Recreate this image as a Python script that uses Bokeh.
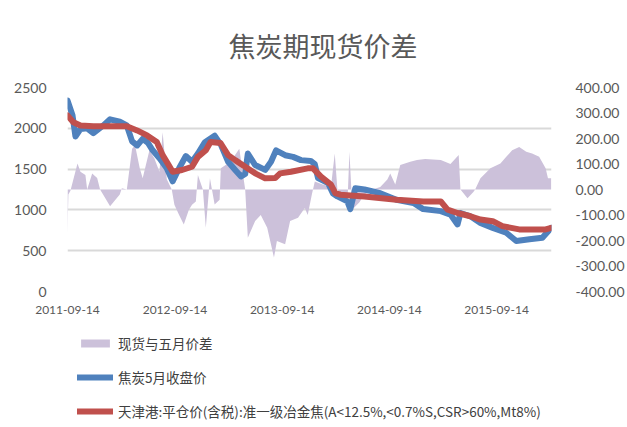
import pandas as pd
from bokeh.plotting import figure
from bokeh.layouts import column
from bokeh.models import (Range1d, LinearAxis, FixedTicker, NumeralTickFormatter,
                          DatetimeTickFormatter, Legend, LegendItem)
from bokeh.embed import file_html
from bokeh.resources import INLINE

# ---------------- data ----------------
tick_labels = ["2011-09-14", "2012-09-14", "2013-09-14", "2014-09-14", "2015-09-14"]
left_ticks = [0, 500, 1000, 1500, 2000, 2500]
right_ticks = [-400, -300, -200, -100, 0, 100, 200, 300, 400]
series_names = ["现货与五月价差", "焦炭5月收盘价",
                "天津港:平仓价(含税):准一级冶金焦(A<12.5%,<0.7%S,CSR>60%,Mt8%)"]

coke_dates = [
    "2011-09-14", "2011-10-01", "2011-10-11", "2011-10-28", "2011-11-20", "2011-12-11",
    "2012-01-14", "2012-02-06", "2012-03-10", "2012-04-03", "2012-04-21", "2012-05-08",
    "2012-05-27", "2012-06-14", "2012-06-30", "2012-07-24", "2012-08-17", "2012-09-06",
    "2012-09-28", "2012-10-21", "2012-11-11", "2012-12-01", "2012-12-25", "2013-01-27",
    "2013-02-17", "2013-03-14", "2013-04-07", "2013-04-27", "2013-05-11", "2013-05-20",
    "2013-06-14", "2013-07-18", "2013-08-07", "2013-08-24", "2013-09-24", "2013-10-21",
    "2013-11-17", "2013-12-20", "2014-01-03", "2014-01-14", "2014-02-17", "2014-03-06",
    "2014-03-21", "2014-04-24", "2014-05-04", "2014-05-21", "2014-06-21", "2014-08-14",
    "2014-10-08", "2014-12-05", "2015-01-07", "2015-03-08", "2015-04-10", "2015-05-04",
    "2015-05-14", "2015-06-17", "2015-07-21", "2015-09-01", "2015-10-17", "2015-11-20",
    "2016-01-04", "2016-02-17", "2016-03-18",
]
coke_close = [
    2340, 2160, 1900, 1990, 2000, 1940,
    2035, 2110, 2080, 2035, 1840, 1790,
    1870, 1820, 1730, 1630, 1510, 1350,
    1510, 1660, 1590, 1690, 1830, 1910,
    1800, 1590, 1490, 1410, 1440, 1690,
    1550, 1490, 1590, 1730, 1670, 1650,
    1610, 1600, 1560, 1390, 1330, 1200,
    1165, 1104, 1010, 1266, 1250, 1205,
    1125, 1084, 1010, 985, 943, 822,
    962, 922, 841, 780, 720, 619,
    640, 659, 780,
]

port_dates = [
    "2011-09-14", "2011-10-04", "2011-10-28", "2011-12-11", "2012-04-03", "2012-05-08",
    "2012-06-11", "2012-07-14", "2012-08-03", "2012-08-20", "2012-09-06", "2012-10-08",
    "2012-11-11", "2012-12-01", "2012-12-28", "2013-01-13", "2013-02-16", "2013-03-14",
    "2013-04-07", "2013-05-11", "2013-06-14", "2013-07-18", "2013-08-21", "2013-09-07",
    "2013-10-14", "2013-12-10", "2013-12-28", "2014-01-24", "2014-02-27", "2014-03-14",
    "2014-03-31", "2014-06-21", "2014-10-08", "2015-01-07", "2015-03-08", "2015-03-31",
    "2015-05-04", "2015-06-17", "2015-07-21", "2015-09-01", "2015-10-04", "2015-11-30",
    "2016-02-28", "2016-03-18",
]
port_price = [
    2157, 2075, 2035, 2025, 2025, 1974,
    1913, 1833, 1671, 1570, 1468, 1489,
    1529, 1650, 1732, 1833, 1820, 1671,
    1610, 1529, 1448, 1387, 1390, 1448,
    1468, 1509, 1509, 1408, 1310, 1205,
    1186, 1165, 1125, 1104, 1104, 1003,
    962, 922, 882, 862, 801, 761,
    761, 780,
]

spread_dates = [
    "2011-09-14", "2011-09-17", "2011-09-24", "2011-10-18", "2011-10-28", "2011-11-14",
    "2011-11-20", "2011-12-07", "2011-12-24", "2012-01-03", "2012-02-06", "2012-03-10",
    "2012-03-17", "2012-04-03", "2012-04-21", "2012-05-01", "2012-05-17", "2012-05-27",
    "2012-06-19", "2012-07-06", "2012-07-23", "2012-08-03", "2012-08-17", "2012-09-03",
    "2012-09-12", "2012-09-28", "2012-10-14", "2012-10-31", "2012-11-11", "2012-11-24",
    "2012-12-01", "2012-12-18", "2012-12-28", "2013-01-11", "2013-01-27", "2013-02-13",
    "2013-02-17", "2013-03-22", "2013-04-21", "2013-05-11", "2013-05-20", "2013-06-14",
    "2013-07-03", "2013-07-25", "2013-08-17", "2013-08-27", "2013-09-24", "2013-10-11",
    "2013-11-07", "2013-11-30", "2013-12-10", "2013-12-24", "2014-01-03", "2014-01-30",
    "2014-02-27", "2014-03-12", "2014-03-21", "2014-04-07", "2014-04-24", "2014-05-01",
    "2014-05-11", "2014-06-04", "2014-06-21", "2014-07-18", "2014-08-14", "2014-09-07",
    "2014-09-17", "2014-10-04", "2014-10-21", "2014-11-24", "2014-12-17", "2015-01-14",
    "2015-03-08", "2015-04-10", "2015-05-08", "2015-05-14", "2015-06-07", "2015-06-27",
    "2015-07-03", "2015-07-21", "2015-08-24", "2015-09-27", "2015-10-17", "2015-11-06",
    "2015-11-30", "2015-12-24", "2016-01-13", "2016-02-06", "2016-02-28", "2016-03-07",
    "2016-03-18",
]
spread_vals = [
    -176, -20, -5, 102, 70, 57,
    0, 63, 45, 0, -66, -20,
    5, 0, 160, 174, 83, 44,
    154, 122, 70, 225, 40, 0,
    -60, -100, -137, -80, -60, -47,
    57, 0, -150, 44, -59, -40,
    83, 109, 160, 0, -189, -124,
    -100, -150, -267, -202, -215, -124,
    -111, -73, -100, -20, 31, 20,
    10, 141, 0, -30, -60, 148,
    -78, -50, -20, 0, 10, 39,
    63, 20, 96, 109, 116, 120,
    116, 100, 135, 0, -34, -10,
    0, 44, 83, 102, 128, 154,
    167, 148, 141, 128, 83, 44,
    44,
]

# ---------------- styles ----------------
GREY = "#595959"
PURPLE = "#CCC1DA"
BLUE = "#4F81BD"
RED = "#C0504D"

sx = pd.to_datetime(spread_dates)
cx = pd.to_datetime(coke_dates)
px_ = pd.to_datetime(port_dates)
x_start, x_end = pd.Timestamp("2011-09-14"), pd.Timestamp("2016-03-19")

# ---------------- main chart ----------------
p = figure(width=627, height=320, x_axis_type="datetime",
           output_backend="svg", toolbar_location=None,
           x_range=Range1d(x_start, x_end), y_range=Range1d(0, 2500),
           min_border_left=67, min_border_right=70, min_border_top=85, min_border_bottom=29)
p.extra_y_ranges = {"spread": Range1d(-400, 400)}
p.outline_line_color = None
p.background_fill_color = "white"
p.border_fill_color = "white"

p.varea(x=sx, y1=0, y2=spread_vals, y_range_name="spread", fill_color=PURPLE, fill_alpha=1.0)
p.line(x=cx, y=coke_close, line_width=6, line_color=BLUE, line_join="round", line_cap="round")
p.line(x=px_, y=port_price, line_width=6, line_color=RED, line_join="round", line_cap="round")

tick_ms = [int(t.value // 10**6) for t in pd.to_datetime(tick_labels)]
xa = p.xaxis[0]
xa.ticker = FixedTicker(ticks=tick_ms)
xa.formatter = DatetimeTickFormatter(days="%Y-%m-%d", months="%Y-%m-%d", years="%Y-%m-%d")
xa.major_label_text_font = "Lato"
xa.major_label_text_font_size = "12px"
xa.major_label_text_color = GREY
xa.major_label_standoff = 8

ya = p.yaxis[0]
ya.ticker = FixedTicker(ticks=left_ticks)
ya.major_label_text_font = "Lato"
ya.major_label_text_font_size = "14px"
ya.major_label_text_color = GREY
ya.major_label_standoff = 15

ra = LinearAxis(y_range_name="spread", ticker=FixedTicker(ticks=right_ticks),
                formatter=NumeralTickFormatter(format="0.00"))
ra.major_label_text_font = "Lato"
ra.major_label_text_font_size = "14px"
ra.major_label_text_color = GREY
ra.major_label_standoff = 18
p.add_layout(ra, "right")

for ax in (xa, ya, ra):
    ax.axis_line_color = None
    ax.major_tick_line_color = None
    ax.minor_tick_line_color = None

p.xgrid.visible = False
p.ygrid.ticker = FixedTicker(ticks=left_ticks)
p.ygrid.grid_line_color = "#D9D9D9"
p.ygrid.grid_line_width = 2

p.title.text = "焦炭期现货价差"
p.title.align = "left"
p.title.offset = 161
p.title.text_font = "Noto Sans CJK SC"
p.title.text_font_size = "27px"
p.title.text_font_style = "normal"
p.title.text_color = GREY
p.title.standoff = 46

# ---------------- legend strip (same series, drawn outside its visible range) ----------------
lg = figure(width=627, height=107, output_backend="svg", toolbar_location=None,
            x_axis_location=None, y_axis_location=None,
            min_border_left=67, min_border_top=3, min_border_right=70, min_border_bottom=0,
            x_range=Range1d(x_start, x_end), y_range=Range1d(5000, 5001))
lg.outline_line_color = None
lg.grid.visible = False
k_spread = lg.varea(x=sx, y1=0, y2=spread_vals, fill_color=PURPLE)
k_coke = lg.line(x=cx, y=coke_close, line_width=6, line_color=BLUE, line_cap="round")
k_port = lg.line(x=px_, y=port_price, line_width=6, line_color=RED, line_cap="round")

legend = Legend(items=[
    LegendItem(label=series_names[0], renderers=[k_spread]),
    LegendItem(label=series_names[1], renderers=[k_coke]),
    LegendItem(label=series_names[2], renderers=[k_port]),
], location="top_left", orientation="vertical")
legend.label_text_font = "Noto Sans CJK SC"
legend.label_text_font_size = "13.5px"
legend.label_text_color = "#404040"
legend.glyph_width = 36
legend.glyph_height = 10
legend.label_height = 18
legend.spacing = 14
legend.padding = 0
legend.margin = 10
legend.label_standoff = 5
legend.border_line_color = None
legend.background_fill_alpha = 0
lg.add_layout(legend)

layout = column(p, lg, spacing=0)
open("out.html", "w").write(file_html(layout, INLINE))
